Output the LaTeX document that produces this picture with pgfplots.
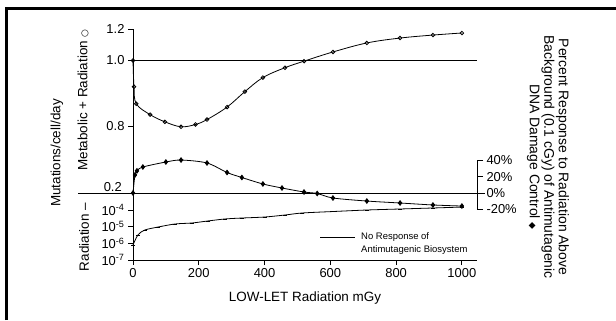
\documentclass[border=0pt]{standalone}
\usepackage{fontspec}
\setmainfont{Liberation Sans}
\newfontfamily\symfont{DejaVu Sans}
\usepackage{pgfplots}
\pgfplotsset{compat=1.18}
\begin{document}
\begin{tikzpicture}[x=1bp,y=1bp]
\useasboundingbox (0,0) rectangle (616,320);
\draw[line width=3bp] (6.5,0) -- (6.5,311) -- (616,311);
% main axis: left scale (top panel + log panel) in drawing units
\begin{axis}[
  at={(133bp,60bp)}, anchor=south west,
  scale only axis, width=344bp, height=231bp,
  xmin=0, xmax=1046, ymin=60, ymax=291,
  axis x line*=bottom, axis y line*=left,
  axis line style={line width=0.9bp},
  xtick={0,200,400,600,800,1000},
  ytick={60,76.67,93.33,110,193.9,259.5,291},
  yticklabels={10\textsuperscript{-7},10\textsuperscript{-6},10\textsuperscript{-5},10\textsuperscript{-4},0.8,1.0,1.2},
  tick align=outside, major tick length=5bp,
  tick style={line width=0.8bp, black},
  ticklabel style={font=\fontsize{13}{15}\selectfont},
  /pgf/number format/assume math mode=true,
  /pgf/number format/1000 sep={},
  xlabel={LOW-LET Radiation mGy},
  xlabel style={font=\fontsize{13.5}{15}\selectfont, at={(axis description cs:0.5,0)}, anchor=center, yshift=-38bp},
  clip=false,
]
% Metabolic + Radiation (top panel)
\addplot[black, line width=0.8bp, smooth, tension=0.6, mark=o, mark size=1.8bp, mark options={fill=white},
  y filter/.expression={y>=1 ? 259.5+(y-1)*158 : 259.5+(y-1)*328}] coordinates {
  (0,1.0) (3,0.92) (10,0.868) (52,0.835) (97,0.813) (146,0.798) (190,0.805) (225,0.820) (286,0.858)
  (340,0.905) (395,0.948) (462,0.978) (520,0.998) (608,1.054) (711,1.111) (812,1.142) (912,1.161) (1000,1.174)};
% no response line
\addplot[black, line width=0.8bp, y filter/.expression={259.5+(y-1)*158}] coordinates {(0,1) (1046,1)};
% Radiation only (log panel)
\addplot[black, line width=0.8bp, smooth, tension=0.5, mark=-, mark size=2bp,
  y filter/.expression={60+(ln(y)/ln(10)+7)*16.667}] coordinates {
  (0,7.9e-7) (15,3.2e-6) (36,6.3e-6) (76,9.5e-6) (128,1.45e-5) (179,1.66e-5) (228,2.2e-5)
  (280,2.9e-5) (331,3.3e-5) (401,3.8e-5) (462,5.0e-5) (514,6.6e-5) (608,8.1e-5) (711,1.0e-4)
  (812,1.15e-4) (912,1.32e-4) (1000,1.5e-4)};
\end{axis}
% percent axis (right)
\begin{axis}[
  at={(133bp,110.6bp)}, anchor=south west,
  scale only axis, width=344bp, height=49.2bp,
  xmin=0, xmax=1046, ymin=-20, ymax=40,
  axis x line=none, axis y line*=right,
  axis line style={line width=0.9bp},
  ytick={-20,0,20,40},
  yticklabels={-20\%,0\%,20\%,40\%},
  tick align=outside, major tick length=6bp,
  tick style={line width=0.8bp, black},
  ticklabel style={font=\fontsize{13}{15}\selectfont},
  clip=false,
]
\draw[line width=0.9bp] (axis cs:-167,0) -- (axis cs:1070,0);
\addplot[black, line width=0.8bp, smooth, tension=0.5, mark=diamond*, mark size=2.3bp] coordinates {
  (0,0) (6,22) (12,27) (30,31.7) (100,37.8) (146,40.2) (225,36.6) (286,25) (331,18.9)
  (395,11) (453,6.1) (520,1.2) (560,-0.6) (608,-6.1) (711,-9.8) (812,-12.2) (912,-14.6) (1000,-15.9)};
\end{axis}
\node[anchor=east, font=\fontsize{13}{15}\selectfont, inner sep=0] at (122,133) {0.2};
\node[rotate=90, font=\fontsize{13.5}{15}\selectfont] at (57,167) {Mutations/cell/day};
\node[rotate=90, font=\fontsize{13.5}{15}\selectfont] at (83,220) {Metabolic + Radiation {\symfont\fontsize{9}{10}\selectfont ○}};
\node[rotate=90, font=\fontsize{13.5}{15}\selectfont] at (84,83) {Radiation –};
\node[rotate=-90, align=center, font=\fontsize{14}{14.5}\selectfont] at (548,163)
  {Percent Response to Radiation Above\\Background (0.1 cGy) of Antimutagenic\\DNA Damage Control {\symfont\fontsize{9}{10}\selectfont ◆}};
\draw[line width=0.8bp] (320,83) -- (355,83);
\node[anchor=base west, font=\fontsize{9.5}{12}\selectfont, inner sep=0] at (361,80.5) {No Response of};
\node[anchor=base west, font=\fontsize{9.5}{12}\selectfont, inner sep=0] at (361,67.5) {Antimutagenic Biosystem};
\end{tikzpicture}
\end{document}
